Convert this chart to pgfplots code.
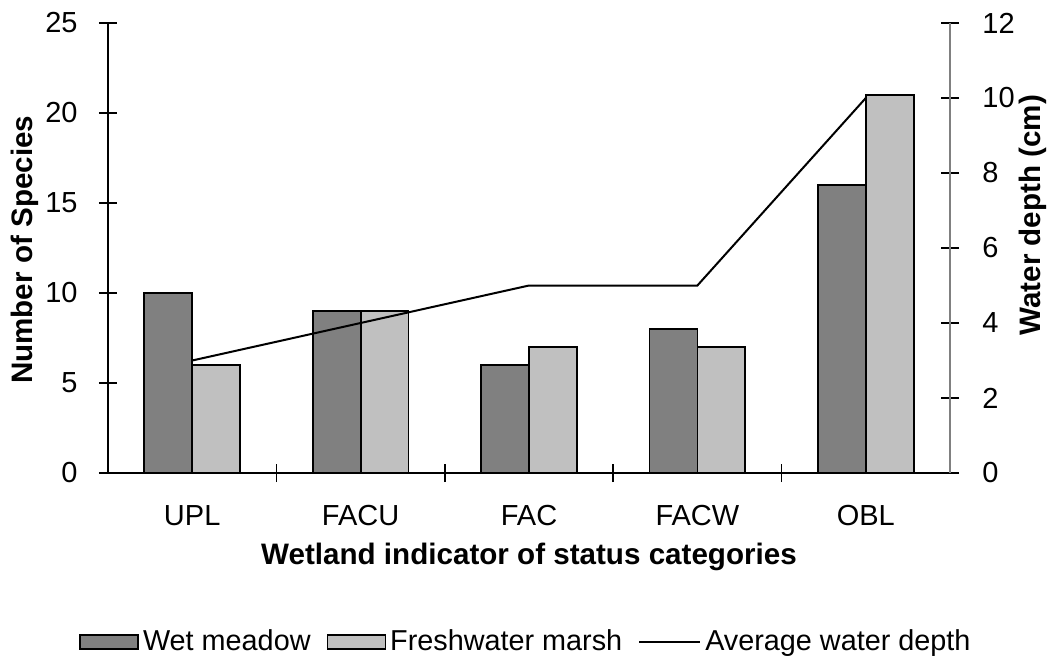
\documentclass[border=0pt]{standalone}
\usepackage{fontspec}
\setmainfont{Liberation Sans}
\usepackage{pgfplots}
\pgfplotsset{compat=1.18}
\definecolor{wetc}{HTML}{808080}
\definecolor{frc}{HTML}{C0C0C0}
\pgfplotsset{
 common/.style={
  scale only axis, width=421pt, height=225pt, xmin=-0.5, xmax=4.5,
  tick align=center, major tick length=9pt,
  /pgf/number format/assume math mode=true,
  tick label style={font=\fontsize{14.5}{16}\selectfont},
  axis line style={-, line width=0.8pt},
  every tick/.style={line width=0.8pt, color=black},
 },
 barimg/.style={legend image code/.code={\draw[##1, line width=0.8pt] (0pt,-3.5pt) rectangle (29pt,3.5pt);}},
 lineimg/.style={legend image code/.code={\draw[##1] (0pt,0pt) -- (30.5pt,0pt);}},
}
\begin{document}
\begin{tikzpicture}
\useasboundingbox (-54pt,-93pt) rectangle (473pt,236.5pt);
\begin{axis}[common, axis y line*=left, axis x line*=bottom,
 ymin=0, ymax=25, ytick={0,5,...,25},
 xtick={0.5,1.5,2.5,3.5}, xticklabels={},
 extra x ticks={0,1,2,3,4}, extra x tick labels={UPL,FACU,FAC,FACW,OBL},
 extra x tick style={major tick length=0pt, xticklabel style={anchor=base, yshift=-26pt}},
 yticklabel style={anchor=east, inner sep=0pt, xshift=-10.5pt},
 ylabel={Number of Species},
 every axis y label/.style={at={(axis description cs:-0.0891,0.496)}, rotate=90, anchor=base, font=\fontsize{14.8}{17}\selectfont\bfseries},
 xlabel={Wetland indicator of status categories},
 every axis x label/.style={at={(axis description cs:0.5,-0.2044)}, anchor=base, font=\fontsize{14.8}{17}\selectfont\bfseries},
]
\addplot[ybar, bar width=0.285, bar shift=-0.1425, fill=wetc, draw=black, line width=0.9pt]
 coordinates {(0,10) (1,9) (2,6) (3,8) (4,16)};
\addplot[ybar, bar width=0.285, bar shift=0.1425, fill=frc, draw=black, line width=0.9pt]
 coordinates {(0,6) (1,9) (2,7) (3,7) (4,21)};
\end{axis}
\begin{axis}[common, axis y line*=right, axis x line=none,
 ymin=0, ymax=12, ytick={0,2,...,12},
 y axis line style={draw=gray},
 yticklabel style={anchor=west, inner sep=0pt, xshift=11.5pt},
 ylabel={Water depth (cm)},
 every axis y label/.style={at={(axis description cs:1.1069,0.573)}, rotate=90, anchor=base, font=\fontsize{14.8}{17}\selectfont\bfseries},
 legend columns=3,
 legend style={at={(axis description cs:0.4976,-0.3756)}, anchor=center, draw=none, fill=none,
   font=\fontsize{14.4}{16}\selectfont, inner sep=0pt,
   /tikz/every even column/.append style={column sep=6pt},
   /tikz/every odd column/.append style={column sep=0pt}},
]
\addlegendimage{barimg, fill=wetc, draw=black}
\addlegendentry{Wet meadow}
\addlegendimage{barimg, fill=frc, draw=black}
\addlegendentry{Freshwater marsh}
\addplot[black, line width=1pt, lineimg]
 coordinates {(0,3) (1,4) (2,5) (3,5) (4,10)};
\addlegendentry{Average water depth}
\end{axis}
\end{tikzpicture}
\end{document}
